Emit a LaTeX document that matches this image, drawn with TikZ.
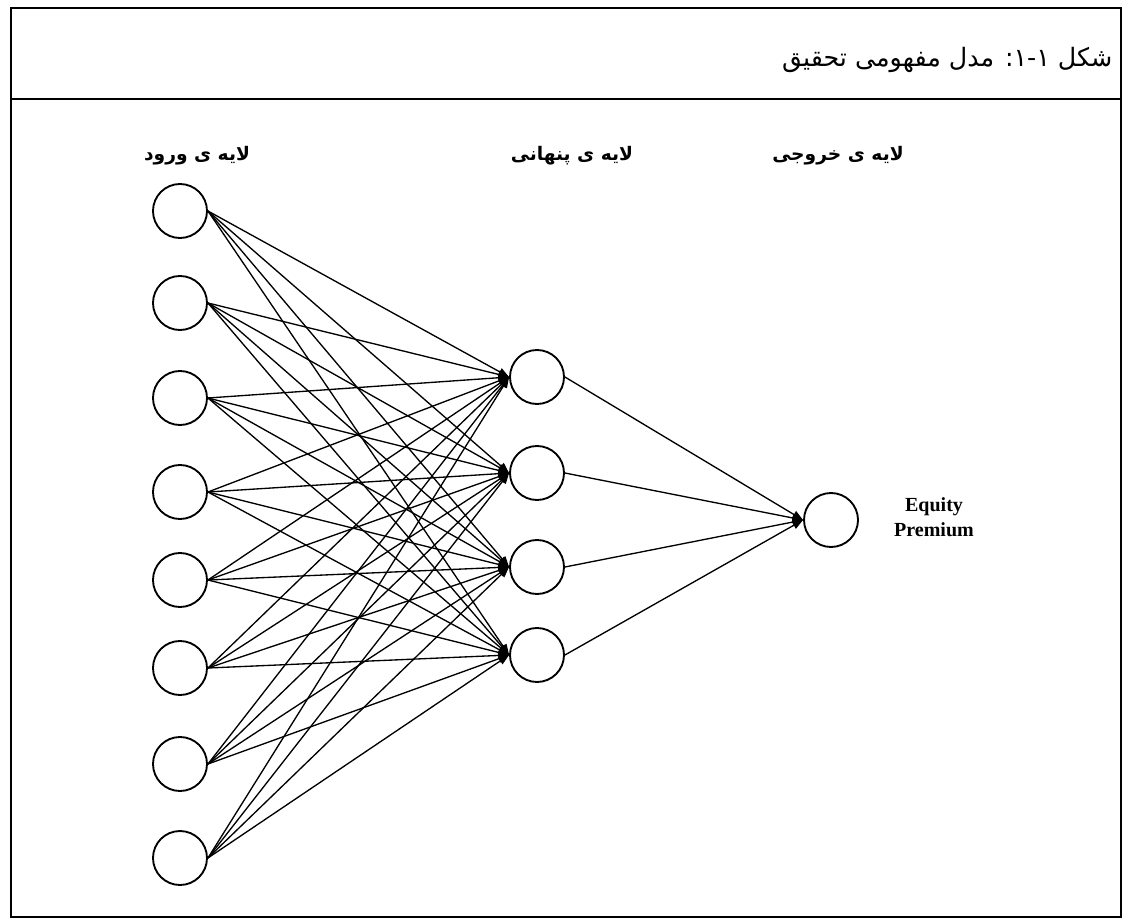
\documentclass[tikz,border=0pt]{standalone}
\usepackage{fontspec}
\setmainfont{Liberation Serif}
\newfontfamily\fa[Script=Arabic]{DejaVu Sans}
\TeXXeTstate=1
\usetikzlibrary{arrows.meta}
\begin{document}
\begin{tikzpicture}[x=0.75pt,y=-0.75pt,
  neuron/.style={circle,draw,line width=1.4pt,minimum size=40.5pt,inner sep=0pt},
  conn/.style={line width=1pt,-{Triangle[length=8pt,width=6pt]}},
  frame/.style={line width=1.3pt},
  lbl/.style={font=\fa\bfseries\fontsize{14}{16}\selectfont},
  ttl/.style={font=\fa\fontsize{19}{22}\selectfont},
  outlbl/.style={font=\bfseries\fontsize{15}{19}\selectfont,align=center},
]
\useasboundingbox (0,0) rectangle (1123,920);
\draw[frame] (11,8) rectangle (1121,917);
\draw[frame] (11,99) -- (1121,99);
\node[ttl,anchor=east] (title) at (1117,60) {\beginR شکل ۱-۱: مدل مفهومی تحقیق\endR};
\node[lbl] (linp) at (197,156) {\beginR لایه ی ورود\endR};
\node[lbl] (lhid) at (572,156) {\beginR لایه ی پنهانی\endR};
\node[lbl] (lout) at (838,156) {\beginR لایه ی خروجی\endR};
\foreach \y [count=\i] in {211,303,398,492,580,668,764,858}
  \node[neuron] (in\i) at (180,\y) {};
\foreach \y [count=\j] in {377,473,567,655}
  \node[neuron] (hid\j) at (537,\y) {};
\node[neuron] (out) at (831,520) {};
\foreach \i in {1,...,8}
  \foreach \j in {1,...,4}
    \draw[conn] (in\i.east) -- (hid\j.west);
\foreach \j in {1,...,4}
  \draw[conn] (hid\j.east) -- (out.west);
\node[outlbl] (eq) at (934,517) {Equity\\Premium};
\end{tikzpicture}
\end{document}
